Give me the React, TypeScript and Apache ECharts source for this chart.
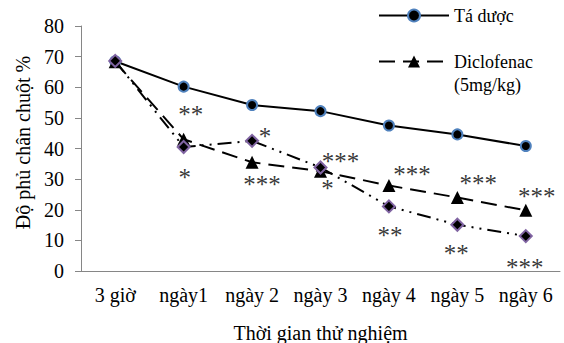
import React, { useEffect, useRef } from "react";
import * as echarts from "echarts";

const categories = ["3 giờ", "ngày1", "ngày 2", "ngày 3", "ngày 4", "ngày 5", "ngày 6"];
const taDuoc = [68.5, 60.2, 54.2, 52.2, 47.5, 44.6, 40.8];
const diclofenac = [68.3, 43.0, 35.5, 32.6, 27.9, 24.0, 19.8];
const mauThu = [68.6, 40.5, 42.5, 33.8, 21.1, 15.1, 11.4];

// significance markers: category, value level, text
const annCat = ["ngày1", "ngày1", "ngày 2", "ngày 2", "ngày 3", "ngày 3", "ngày 4", "ngày 4", "ngày 5", "ngày 5", "ngày 6", "ngày 6"];
const annValue = [52.8, 32.2, 45.6, 29.9, 37.4, 28.6, 33.2, 13.2, 30.2, 7.4, 26.0, 2.8];
const annText = ["**", "*", "*", "***", "***", "*", "***", "**", "***", "**", "***", "***"];
// horizontal label shifts (style only)
const annDx = [7, 1, 13, 10, 20, 7, 23, 1, 21, -1, 11, -1];

const FONT = "'Liberation Serif', 'Times New Roman', serif";

export default function App() {
  const ref = useRef<HTMLDivElement>(null);
  useEffect(() => {
    const chart = echarts.init(ref.current!, null, { renderer: "svg" });
    chart.setOption({
      animation: false,
      textStyle: { fontFamily: FONT },
      grid: { left: 81, right: 4, top: 26, bottom: 72, containLabel: false, outerBoundsMode: "none" },
      legend: {
        orient: "vertical",
        left: 378,
        top: 4,
        padding: 0,
        itemGap: 0,
        itemWidth: 70,
        itemHeight: 15,
        textStyle: { fontFamily: FONT, fontSize: 18, color: "#000", lineHeight: 23 },
        formatter: (name: string) => (name.indexOf("\n") >= 0 ? "\n" + name : name),
        data: ["Tá dược", "Diclofenac\n(5mg/kg)"],
      },
      xAxis: {
        type: "category",
        data: categories,
        boundaryGap: true,
        axisLine: { lineStyle: { color: "#868686", width: 1 } },
        axisTick: { alignWithLabel: true, length: 5, lineStyle: { color: "#868686" } },
        axisLabel: { color: "#000", fontSize: 20, fontFamily: FONT, margin: 14, interval: 0 },
        name: "Thời gian thử nghiệm",
        nameLocation: "middle",
        nameGap: 52,
        nameTextStyle: { color: "#000", fontSize: 20, fontFamily: FONT },
      },
      yAxis: {
        type: "value",
        min: 0,
        max: 80,
        interval: 10,
        splitLine: { show: false },
        axisLine: { show: true, lineStyle: { color: "#868686", width: 1 } },
        axisTick: { show: true, length: 6, lineStyle: { color: "#868686" } },
        axisLabel: { color: "#000", fontSize: 20, fontFamily: FONT, margin: 17 },
        name: "Độ phủ chân chuột %",
        nameLocation: "middle",
        nameGap: 48,
        nameTextStyle: { color: "#000", fontSize: 20, fontFamily: FONT, padding: [0, 0, 0, 12] },
      },
      series: [
        {
          name: "Tá dược",
          type: "line",
          data: taDuoc,
          symbol: "circle",
          symbolSize: 10,
          lineStyle: { color: "#000", width: 2 },
          itemStyle: { color: "#000", borderColor: "#4f81bd", borderWidth: 2 },
          z: 2,
        },
        {
          name: "Diclofenac\n(5mg/kg)",
          type: "line",
          data: diclofenac,
          symbol: "triangle",
          symbolSize: 13,
          lineStyle: { color: "#000", width: 2, type: [16, 8] },
          itemStyle: { color: "#000" },
          z: 3,
        },
        {
          name: "Mẫu thử",
          type: "line",
          data: mauThu,
          symbol: "diamond",
          symbolSize: 12,
          lineStyle: { color: "#000", width: 2, type: [14, 6, 2, 6, 2, 6] },
          itemStyle: { color: "#000", borderColor: "#8064a2", borderWidth: 2 },
          z: 4,
        },
        {
          name: "sig",
          type: "scatter",
          symbol: "circle",
          symbolSize: 1,
          itemStyle: { color: "rgba(0,0,0,0)" },
          silent: true,
          z: 5,
          data: annValue.map((v, i) => ({
            value: [annCat[i], v],
            label: {
              show: true,
              position: "inside",
              formatter: annText[i],
              offset: [annDx[i], 5],
              color: "#000",
              textBorderWidth: 0,
              fontSize: 25,
              fontFamily: FONT,
            },
          })),
        },
      ],
    });
    return () => chart.dispose();
  }, []);
  return <div ref={ref} style={{ position: "absolute", left: 0, top: 0, width: 564, height: 343 }} />;
}
